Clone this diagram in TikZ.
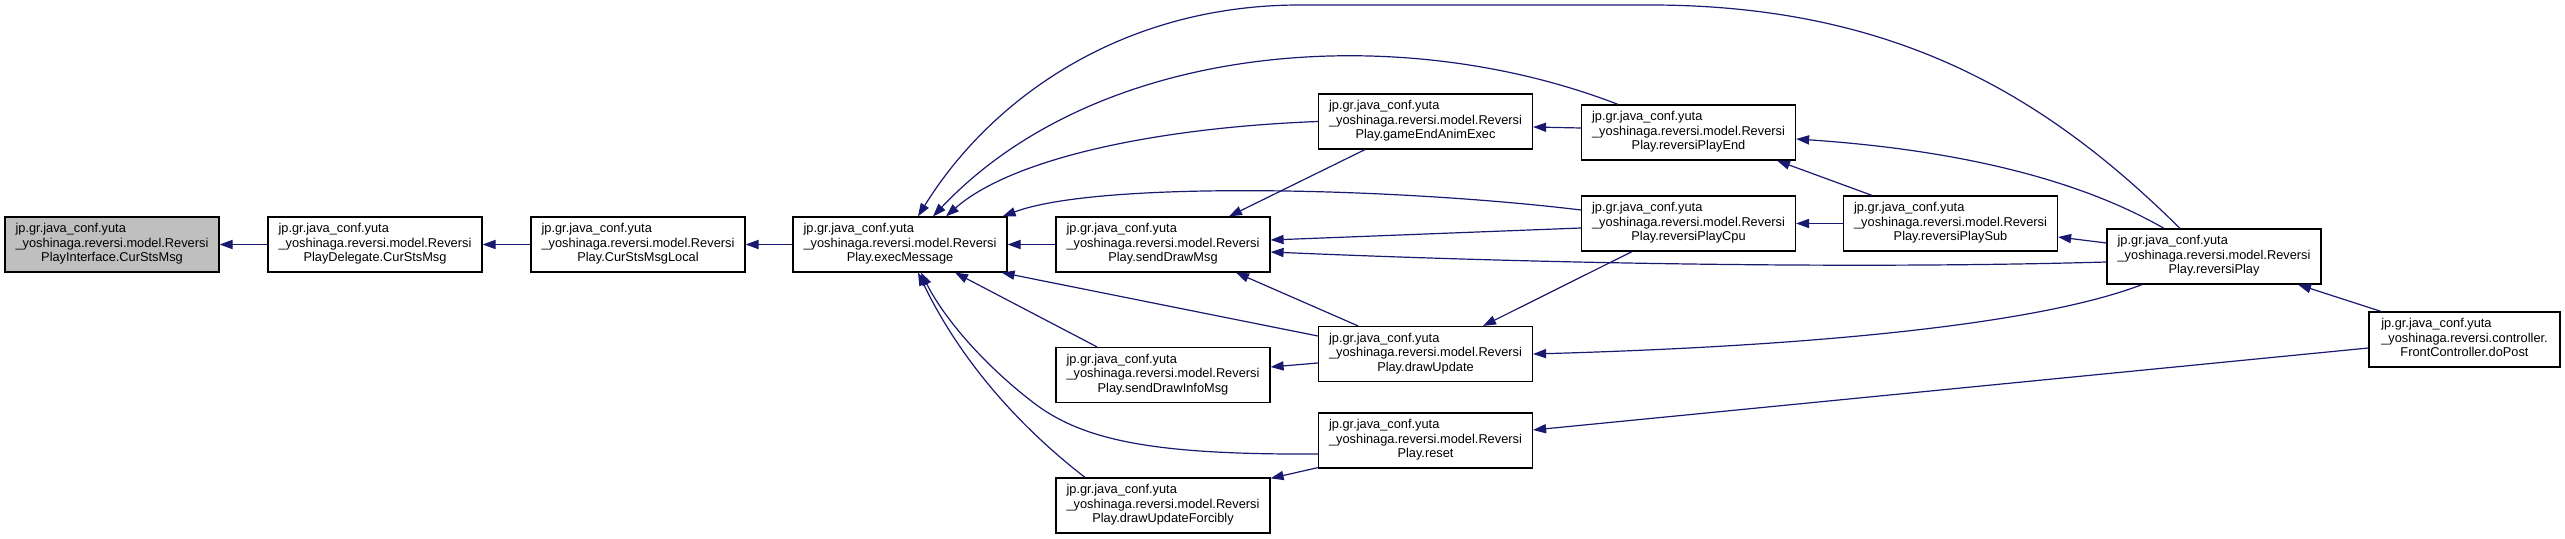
\documentclass[tikz,border=0pt]{standalone}
\usepackage{fontspec}
\setmainfont{Liberation Sans}
\usetikzlibrary{arrows.meta,calc}
\definecolor{edgecol}{HTML}{191970}
\definecolor{greyfill}{HTML}{BFBFBF}
\newcommand{\lbl}[3]{\begin{tabular}{@{}l@{}}#1\\#2\\\multicolumn{1}{@{}c@{}}{#3}\end{tabular}}
\tikzset{
  fn/.style={draw=black, line width=0.6pt, fill=white, rectangle, minimum width=107pt, minimum height=27.5pt, inner sep=0pt,
    font=\fontsize{6.4}{7.25}\selectfont},
  cur/.style={fn, fill=greyfill},
  call/.style={draw=edgecol, line width=0.6pt, -{Triangle[length=6.5pt,width=4.6pt]}, fill=none}
}
\begin{document}
\begin{tikzpicture}[x=0.5pt,y=-0.5pt]
\useasboundingbox (0,0) rectangle (2565,539);
% nodes
\node[cur] (n1) at (112,244.5) {\lbl{jp.gr.java\_conf.yuta}{\_yoshinaga.reversi.model.Reversi}{PlayInterface.CurStsMsg}};
\node[fn] (n2) at (375,244.5) {\lbl{jp.gr.java\_conf.yuta}{\_yoshinaga.reversi.model.Reversi}{PlayDelegate.CurStsMsg}};
\node[fn] (n3) at (638,244.5) {\lbl{jp.gr.java\_conf.yuta}{\_yoshinaga.reversi.model.Reversi}{Play.CurStsMsgLocal}};
\node[fn] (n4) at (900,244.5) {\lbl{jp.gr.java\_conf.yuta}{\_yoshinaga.reversi.model.Reversi}{Play.execMessage}};
\node[fn] (n5) at (1163,244.5) {\lbl{jp.gr.java\_conf.yuta}{\_yoshinaga.reversi.model.Reversi}{Play.sendDrawMsg}};
\node[fn] (n6) at (1163,375) {\lbl{jp.gr.java\_conf.yuta}{\_yoshinaga.reversi.model.Reversi}{Play.sendDrawInfoMsg}};
\node[fn] (n7) at (1163,505.5) {\lbl{jp.gr.java\_conf.yuta}{\_yoshinaga.reversi.model.Reversi}{Play.drawUpdateForcibly}};
\node[fn] (n8) at (1425.5,121.5) {\lbl{jp.gr.java\_conf.yuta}{\_yoshinaga.reversi.model.Reversi}{Play.gameEndAnimExec}};
\node[fn] (n9) at (1425.5,354) {\lbl{jp.gr.java\_conf.yuta}{\_yoshinaga.reversi.model.Reversi}{Play.drawUpdate}};
\node[fn] (n10) at (1425.5,440.5) {\lbl{jp.gr.java\_conf.yuta}{\_yoshinaga.reversi.model.Reversi}{Play.reset}};
\node[fn] (n11) at (1688.5,132.5) {\lbl{jp.gr.java\_conf.yuta}{\_yoshinaga.reversi.model.Reversi}{Play.reversiPlayEnd}};
\node[fn] (n12) at (1688.5,223.5) {\lbl{jp.gr.java\_conf.yuta}{\_yoshinaga.reversi.model.Reversi}{Play.reversiPlayCpu}};
\node[fn] (n13) at (1950.5,223.5) {\lbl{jp.gr.java\_conf.yuta}{\_yoshinaga.reversi.model.Reversi}{Play.reversiPlaySub}};
\node[fn] (n14) at (2214,256.5) {\lbl{jp.gr.java\_conf.yuta}{\_yoshinaga.reversi.model.Reversi}{Play.reversiPlay}};
\node[fn, minimum width=95.5pt] (n15) at (2464.5,339.5) {\lbl{jp.gr.java\_conf.yuta}{\_yoshinaga.reversi.controller.}{FrontController.doPost}};
% edges
\draw[call] (n2.west) -- (n1.east);
\draw[call] (n3.west) -- (n2.east);
\draw[call] (n4.west) -- (n3.east);
\draw[call] (n5.west) -- (n4.east);
\draw[call] ($(n12.west)+(0,-13.5)$) .. controls (1400,188) and (1100,180) .. ($(n4.north east)+(-5,0)$);
\draw[call] ($(n14.north)+(-34,0)$) .. controls (2050,100) and (1900,5) .. (1650,5) -- (1300,5) .. controls (1120,5) and (990,100) .. ($(n4.north)+(18,0)$);
\draw[call] ($(n11.north)+(-70.5,0)$) .. controls (1400,20) and (1100,40) .. ($(n4.north)+(33,0)$);
\draw[call] (n8.west) .. controls (1150,128) and (1010,160) .. ($(n4.north)+(46,0)$);
\draw[call] ($(n9.west)+(0,-18)$) -- ($(n4.south east)+(-6,0)$);
\draw[call] ($(n6.north)+(-66,0)$) -- ($(n4.south)+(55,0)$);
\draw[call] ($(n10.west)+(0,13.5)$) .. controls (1150,455) and (1080,440) .. (1030,400) .. controls (985,365) and (945,320) .. ($(n4.south)+(21,0)$);
\draw[call] ($(n7.north)+(-78,0)$) .. controls (1030,435) and (965,370) .. ($(n4.south)+(18,0)$);
\draw[call] ($(n8.south)+(-60.5,0)$) -- ($(n5.north)+(66,0)$);
\draw[call] ($(n12.west)+(0,4.5)$) -- ($(n5.east)+(0,-4.5)$);
\draw[call] ($(n14.west)+(0,5.5)$) .. controls (1900,268) and (1600,266) .. ($(n5.east)+(0,7.5)$);
\draw[call] ($(n9.north)+(-67.5,0)$) -- ($(n5.south)+(73,0)$);
\draw[call] ($(n9.west)+(0,9)$) -- ($(n6.east)+(0,-8)$);
\draw[call] ($(n12.south)+(-56.5,0)$) -- ($(n9.north)+(57.5,0)$);
\draw[call] ($(n14.south)+(-72,0)$) .. controls (2050,320) and (1850,345) .. (n9.east);
\draw[call] ($(n10.south west)+(0,-1)$) -- ($(n7.north east)+(0,1)$);
\draw[call] ($(n15.west)+(0,8.5)$) -- ($(n10.east)+(0,-10.5)$);
\draw[call] ($(n15.north)+(-83.5,0)$) -- ($(n14.south)+(84,0)$);
\draw[call] ($(n14.west)+(0,-13.5)$) -- ($(n13.east)+(0,13.5)$);
\draw[call] ($(n14.north)+(-50,0)$) .. controls (2080,180) and (1960,150) .. ($(n11.east)+(0,6.5)$);
\draw[call] ($(n13.north)+(-78.5,0)$) -- ($(n11.south)+(88.5,0)$);
\draw[call] (n13.west) -- (n12.east);
\draw[call] ($(n11.west)+(0,-4.5)$) -- ($(n8.east)+(0,5.5)$);
\end{tikzpicture}
\end{document}
